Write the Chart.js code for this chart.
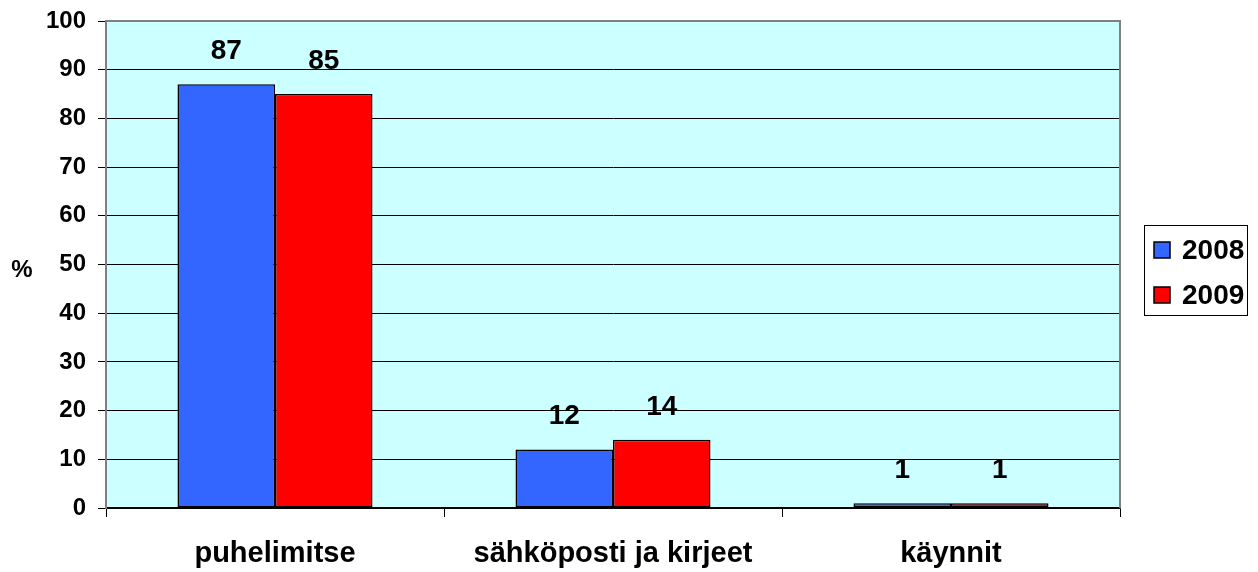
<!DOCTYPE html>
<html lang="fi">
<head>
<meta charset="utf-8">
<title>Yhteydenotot</title>
<script src="https://cdn.jsdelivr.net/npm/chart.js"></script>
<style>
  html, body { margin: 0; padding: 0; background: #fff; }
  #wrap { width: 1258px; height: 572px; }
</style>
</head>
<body>
<div id="wrap"><canvas id="chart" width="1258" height="572"></canvas></div>
<script>
const categories = ['puhelimitse', 'sähköposti ja kirjeet', 'käynnit'];
const values2008 = [87, 12, 1];
const values2009 = [85, 14, 1];
const seriesNames = ['2008', '2009'];
const seriesColors = ['#3366FF', '#FF0000'];

const FONT = '"Liberation Sans", Arial, sans-serif';

// light cyan plot background + grey frame on top/right
const plotArea = {
  id: 'plotArea',
  beforeDraw(chart) {
    const { ctx, chartArea: a } = chart;
    ctx.save();
    ctx.fillStyle = '#CCFFFF';
    ctx.fillRect(a.left, a.top, a.right - a.left, a.bottom - a.top);
    ctx.restore();
  },
  afterDraw(chart) {
    const { ctx, chartArea: a } = chart;
    ctx.save();
    ctx.strokeStyle = '#808080';
    ctx.lineWidth = 2;
    ctx.beginPath();
    ctx.moveTo(a.left, a.top);
    ctx.lineTo(a.right, a.top);
    ctx.lineTo(a.right, a.bottom);
    ctx.stroke();
    ctx.restore();
  }
};

// value labels above bars, "%" title, legend box
const extras = {
  id: 'extras',
  afterDatasetsDraw(chart) {
    const { ctx } = chart;
    ctx.save();
    ctx.fillStyle = '#000';
    ctx.font = 'bold 28px ' + FONT;
    ctx.textAlign = 'center';
    ctx.textBaseline = 'middle';
    chart.data.datasets.forEach((ds, i) => {
      chart.getDatasetMeta(i).data.forEach((bar, j) => {
        ctx.fillText(String(ds.data[j]), bar.x, bar.y - 33);
      });
    });

    ctx.font = 'bold 24px ' + FONT;
    ctx.fillText('%', 22, 270);

    // legend
    ctx.fillStyle = '#fff';
    ctx.fillRect(1144, 225, 104, 91);
    ctx.strokeStyle = '#000';
    ctx.lineWidth = 1;
    ctx.strokeRect(1144.5, 225.5, 103, 90);
    const rows = [250, 295];
    ctx.textAlign = 'left';
    ctx.font = 'bold 28px ' + FONT;
    seriesNames.forEach((name, i) => {
      ctx.fillStyle = seriesColors[i];
      ctx.fillRect(1154, rows[i] - 8, 16, 16);
      ctx.strokeStyle = '#000';
      ctx.lineWidth = 1.5;
      ctx.strokeRect(1154, rows[i] - 8, 16, 16);
      ctx.fillStyle = '#000';
      ctx.fillText(name, 1182, rows[i] + 1);
    });
    ctx.restore();
  }
};

new Chart(document.getElementById('chart'), {
  type: 'bar',
  data: {
    labels: categories,
    datasets: [
      { label: seriesNames[0], data: values2008, backgroundColor: seriesColors[0] },
      { label: seriesNames[1], data: values2009, backgroundColor: seriesColors[1] }
    ].map(d => Object.assign(d, {
      borderColor: '#000',
      borderWidth: 1.5,
      borderSkipped: false,
      categoryPercentage: 0.577,
      barPercentage: 1
    }))
  },
  options: {
    responsive: false,
    devicePixelRatio: 1,
    animation: false,
    layout: { padding: { top: 21, right: 138, bottom: 0, left: 0 } },
    plugins: { legend: { display: false }, tooltip: { enabled: false } },
    scales: {
      x: {
        grid: { drawOnChartArea: false, drawTicks: true, tickLength: 9, color: '#000', offset: true },
        border: { color: '#000', width: 1.5 },
        ticks: { color: '#000', padding: 20, font: { family: FONT, size: 29, weight: 'bold' } },
        afterFit(s) { s.height = 64; s.paddingLeft = 0; s.paddingRight = 0; }
      },
      y: {
        min: 0,
        max: 100,
        ticks: { stepSize: 10, color: '#000', padding: 12, font: { family: FONT, size: 24, weight: 'bold' } },
        grid: { color: '#000', lineWidth: 1, tickLength: 8 },
        border: { color: '#808080', width: 2 },
        afterFit(s) { s.width = 106; s.paddingTop = 0; s.paddingBottom = 0; }
      }
    }
  },
  plugins: [plotArea, extras]
});
</script>
</body>
</html>
